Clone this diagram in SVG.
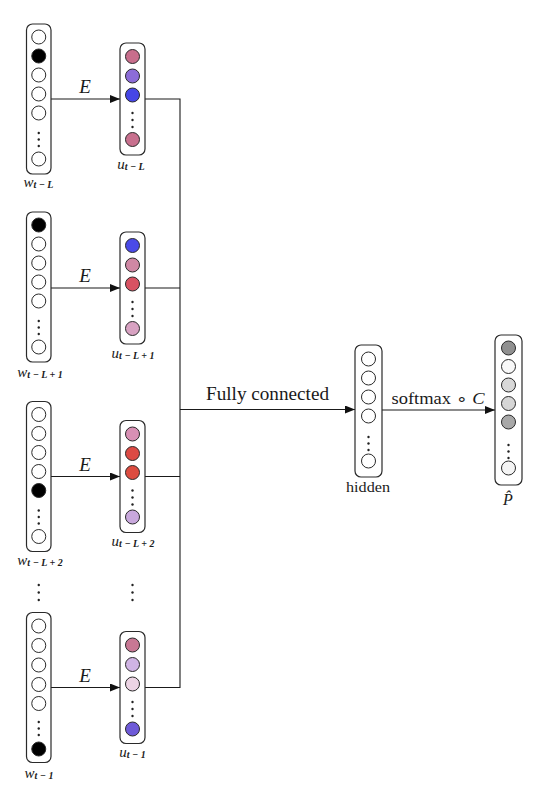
<svg xmlns="http://www.w3.org/2000/svg" width="536" height="804" viewBox="0 0 536 804">
<style>
.box{fill:#fff;stroke:#2a2a2a;stroke-width:1.2}
.c{stroke:#2a2a2a;stroke-width:1}
.w{fill:#fff}
.k{fill:#000}
.d{fill:#222}
.ln{fill:none;stroke:#1a1a1a;stroke-width:1.1}
.lab{font-family:"Liberation Serif",serif;fill:#1a1a1a}
.it{font-style:italic}
.sub{font-size:10px;font-style:italic;font-weight:bold}
</style>
<defs>
<marker id="ah" markerUnits="userSpaceOnUse" markerWidth="10" markerHeight="8" refX="10" refY="4" orient="auto">
<path d="M0,0 L10,4 L0,8 z" fill="#111"/>
</marker>
</defs>
<rect width="536" height="804" fill="#fff"/>

<g id="connectors">
<line class="ln" x1="51" y1="99" x2="120" y2="99" marker-end="url(#ah)"/>
<line class="ln" x1="51" y1="288" x2="120" y2="288" marker-end="url(#ah)"/>
<line class="ln" x1="51" y1="476.5" x2="120" y2="476.5" marker-end="url(#ah)"/>
<line class="ln" x1="51" y1="687.5" x2="120" y2="687.5" marker-end="url(#ah)"/>
<polyline class="ln" points="145,99 180,99 180,687.5 145,687.5"/>
<line class="ln" x1="145" y1="288" x2="180" y2="288"/>
<line class="ln" x1="145" y1="476.5" x2="180" y2="476.5"/>
<line class="ln" x1="180" y1="409.5" x2="355" y2="409.5" marker-end="url(#ah)"/>
<line class="ln" x1="382" y1="410" x2="495" y2="410" marker-end="url(#ah)"/>
<text class="lab it" x="85" y="93" font-size="19" text-anchor="middle">E</text>
<text class="lab it" x="85" y="282" font-size="19" text-anchor="middle">E</text>
<text class="lab it" x="85" y="470.5" font-size="19" text-anchor="middle">E</text>
<text class="lab it" x="85" y="681.5" font-size="19" text-anchor="middle">E</text>
<text class="lab" x="206" y="400" font-size="18" textLength="123" lengthAdjust="spacingAndGlyphs">Fully connected</text>
<text class="lab" x="391.5" y="404" font-size="17" textLength="93" lengthAdjust="spacingAndGlyphs">softmax ∘ <tspan class="it">C</tspan></text>
</g>

<g id="w1">
<rect class="box" x="26.5" y="24" width="24.5" height="150" rx="6"/>
<circle class="c w" cx="38.75" cy="37" r="7"/>
<circle class="c k" cx="38.75" cy="56" r="7"/>
<circle class="c w" cx="38.75" cy="75" r="7"/>
<circle class="c w" cx="38.75" cy="94" r="7"/>
<circle class="c w" cx="38.75" cy="113" r="7"/>
<circle class="d" cx="38.75" cy="133" r="1.2"/><circle class="d" cx="38.75" cy="139.5" r="1.2"/><circle class="d" cx="38.75" cy="146" r="1.2"/>
<circle class="c w" cx="38.75" cy="159" r="7"/>
<text class="lab" x="38.5" y="186.5" font-size="15" text-anchor="middle"><tspan class="it">w</tspan><tspan class="sub" dy="1">t − L</tspan></text>
</g>
<g id="u1">
<rect class="box" x="120" y="43" width="25" height="112" rx="6"/>
<circle class="c" fill="#c86e8c" cx="132.5" cy="56.5" r="7"/>
<circle class="c" fill="#8c6cd8" cx="132.5" cy="76" r="7"/>
<circle class="c" fill="#4646e6" cx="132.5" cy="95" r="7"/>
<circle class="d" cx="132.5" cy="113" r="1.2"/><circle class="d" cx="132.5" cy="120" r="1.2"/><circle class="d" cx="132.5" cy="127" r="1.2"/>
<circle class="c" fill="#c8708e" cx="132.5" cy="139.5" r="7"/>
<text class="lab" x="131" y="168.5" font-size="15" text-anchor="middle"><tspan class="it">u</tspan><tspan class="sub" dy="1">t − L</tspan></text>
</g>

<g id="w2">
<rect class="box" x="26.5" y="212" width="24.5" height="150" rx="6"/>
<circle class="c k" cx="38.75" cy="225" r="7"/>
<circle class="c w" cx="38.75" cy="244" r="7"/>
<circle class="c w" cx="38.75" cy="263" r="7"/>
<circle class="c w" cx="38.75" cy="282" r="7"/>
<circle class="c w" cx="38.75" cy="301" r="7"/>
<circle class="d" cx="38.75" cy="321" r="1.2"/><circle class="d" cx="38.75" cy="327.5" r="1.2"/><circle class="d" cx="38.75" cy="334" r="1.2"/>
<circle class="c w" cx="38.75" cy="347" r="7"/>
<text class="lab" x="40" y="377" font-size="15" text-anchor="middle"><tspan class="it">w</tspan><tspan class="sub" dy="1">t − L + 1</tspan></text>
</g>
<g id="u2">
<rect class="box" x="120" y="232" width="25" height="112" rx="6"/>
<circle class="c" fill="#4a4ae8" cx="132.5" cy="245.5" r="7"/>
<circle class="c" fill="#d088a4" cx="132.5" cy="265" r="7"/>
<circle class="c" fill="#d85262" cx="132.5" cy="284" r="7"/>
<circle class="d" cx="132.5" cy="302" r="1.2"/><circle class="d" cx="132.5" cy="309" r="1.2"/><circle class="d" cx="132.5" cy="316" r="1.2"/>
<circle class="c" fill="#d8a2c2" cx="132.5" cy="328.5" r="7"/>
<text class="lab" x="133" y="357.5" font-size="15" text-anchor="middle"><tspan class="it">u</tspan><tspan class="sub" dy="1">t − L + 1</tspan></text>
</g>

<g id="w3">
<rect class="box" x="26.5" y="401.5" width="24.5" height="150" rx="6"/>
<circle class="c w" cx="38.75" cy="414.5" r="7"/>
<circle class="c w" cx="38.75" cy="433.5" r="7"/>
<circle class="c w" cx="38.75" cy="452.5" r="7"/>
<circle class="c w" cx="38.75" cy="471.5" r="7"/>
<circle class="c k" cx="38.75" cy="490.5" r="7"/>
<circle class="d" cx="38.75" cy="510.5" r="1.2"/><circle class="d" cx="38.75" cy="517" r="1.2"/><circle class="d" cx="38.75" cy="523.5" r="1.2"/>
<circle class="c w" cx="38.75" cy="536.5" r="7"/>
<text class="lab" x="40" y="564.5" font-size="15" text-anchor="middle"><tspan class="it">w</tspan><tspan class="sub" dy="1">t − L + 2</tspan></text>
</g>
<g id="u3">
<rect class="box" x="120" y="420.5" width="25" height="112" rx="6"/>
<circle class="c" fill="#d890b4" cx="132.5" cy="434" r="7"/>
<circle class="c" fill="#dc4a44" cx="132.5" cy="453.5" r="7"/>
<circle class="c" fill="#dc4c40" cx="132.5" cy="472.5" r="7"/>
<circle class="d" cx="132.5" cy="490.5" r="1.2"/><circle class="d" cx="132.5" cy="497.5" r="1.2"/><circle class="d" cx="132.5" cy="504.5" r="1.2"/>
<circle class="c" fill="#c8a8dc" cx="132.5" cy="517" r="7"/>
<text class="lab" x="133" y="545.5" font-size="15" text-anchor="middle"><tspan class="it">u</tspan><tspan class="sub" dy="1">t − L + 2</tspan></text>
</g>

<g id="ellipsis">
<circle class="d" cx="38.75" cy="585" r="1.2"/><circle class="d" cx="38.75" cy="592.5" r="1.2"/><circle class="d" cx="38.75" cy="600" r="1.2"/>
<circle class="d" cx="132.5" cy="585" r="1.2"/><circle class="d" cx="132.5" cy="592.5" r="1.2"/><circle class="d" cx="132.5" cy="600" r="1.2"/>
</g>

<g id="w4">
<rect class="box" x="26.5" y="612.5" width="24.5" height="150" rx="6"/>
<circle class="c w" cx="38.75" cy="626" r="7"/>
<circle class="c w" cx="38.75" cy="645.5" r="7"/>
<circle class="c w" cx="38.75" cy="665" r="7"/>
<circle class="c w" cx="38.75" cy="684.5" r="7"/>
<circle class="c w" cx="38.75" cy="703.5" r="7"/>
<circle class="d" cx="38.75" cy="722" r="1.2"/><circle class="d" cx="38.75" cy="728.5" r="1.2"/><circle class="d" cx="38.75" cy="735" r="1.2"/>
<circle class="c k" cx="38.75" cy="749" r="7"/>
<text class="lab" x="39" y="777.5" font-size="15" text-anchor="middle"><tspan class="it">w</tspan><tspan class="sub" dy="1">t − 1</tspan></text>
</g>
<g id="u4">
<rect class="box" x="120" y="631.5" width="25" height="112" rx="6"/>
<circle class="c" fill="#c87894" cx="132.5" cy="645" r="7"/>
<circle class="c" fill="#d0b4e4" cx="132.5" cy="664.5" r="7"/>
<circle class="c" fill="#ecd4e4" cx="132.5" cy="684" r="7"/>
<circle class="d" cx="132.5" cy="702" r="1.2"/><circle class="d" cx="132.5" cy="709" r="1.2"/><circle class="d" cx="132.5" cy="716" r="1.2"/>
<circle class="c" fill="#6e5ad8" cx="132.5" cy="729" r="7"/>
<text class="lab" x="132.5" y="756.5" font-size="15" text-anchor="middle"><tspan class="it">u</tspan><tspan class="sub" dy="1">t − 1</tspan></text>
</g>

<g id="hidden">
<rect class="box" x="355" y="345" width="27" height="132" rx="6"/>
<circle class="c w" cx="368.5" cy="359" r="7"/>
<circle class="c w" cx="368.5" cy="378" r="7"/>
<circle class="c w" cx="368.5" cy="397" r="7"/>
<circle class="c w" cx="368.5" cy="416" r="7"/>
<circle class="d" cx="368.5" cy="437" r="1.2"/><circle class="d" cx="368.5" cy="443.5" r="1.2"/><circle class="d" cx="368.5" cy="450" r="1.2"/>
<circle class="c w" cx="368.5" cy="461" r="7"/>
<text class="lab" x="368" y="492" font-size="14" text-anchor="middle" textLength="44" lengthAdjust="spacingAndGlyphs">hidden</text>
</g>

<g id="output">
<rect class="box" x="495" y="335" width="27" height="150" rx="6"/>
<circle class="c" fill="#909090" cx="508.5" cy="348" r="7"/>
<circle class="c" fill="#f8f8f8" cx="508.5" cy="366.5" r="7"/>
<circle class="c" fill="#d8d8d8" cx="508.5" cy="385" r="7"/>
<circle class="c" fill="#d6d6d6" cx="508.5" cy="403.5" r="7"/>
<circle class="c" fill="#a8a8a8" cx="508.5" cy="422" r="7"/>
<circle class="d" cx="508.5" cy="445" r="1.2"/><circle class="d" cx="508.5" cy="451.5" r="1.2"/><circle class="d" cx="508.5" cy="458" r="1.2"/>
<circle class="c" fill="#f4f4f4" cx="508.5" cy="468" r="7"/>
<text class="lab it" x="508" y="505" font-size="16" text-anchor="middle">P̂</text>
</g>
</svg>
